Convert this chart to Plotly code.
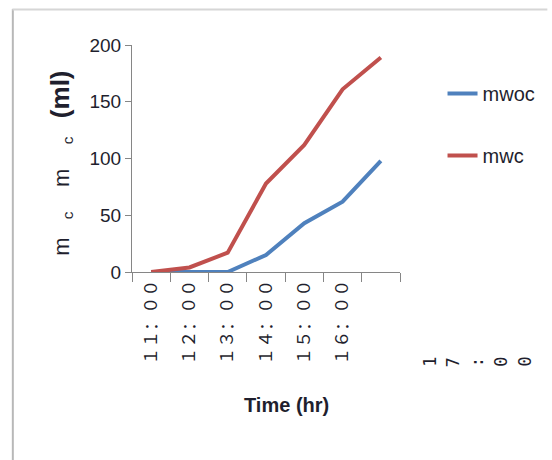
import plotly.graph_objects as go

times = ["11:00", "12:00", "13:00", "14:00", "15:00", "16:00", "17:00"]
mwoc = [0, 0, 0, 15, 43, 62, 98]
mwc = [0, 4, 17, 78, 112, 161, 189]
series_names = ["mwoc", "mwc"]
series_colors = ["#4F81BD", "#C0504D"]
y_ticks = [0, 50, 100, 150, 200]

W, H = 552, 460
L, R, T, B = 132, 149, 45, 188
PW, PH = W - L - R, H - T - B


def px_x(px):
    return (px - L) / PW


def px_y(py):
    return (H - B - py) / PH


def fullwidth(s):
    return "".join(chr(ord(c) + 0xFEE0) if 33 <= ord(c) <= 126 else c for c in s)


FONT = "Liberation Sans, Arial, sans-serif"
TXT = "#1f1f2e"
AX = "#868686"
NB = "\u00a0"

fig = go.Figure()
for name, vals, col in zip(series_names, [mwoc, mwc], series_colors):
    fig.add_trace(go.Scatter(x=times, y=vals, mode="lines", name=name,
                             legendgroup=name,
                             line=dict(color=col, width=4)))

ticktext = [fullwidth(t) for t in times[:-1]] + [" "]

fig.update_xaxes(type="category", categoryorder="array", categoryarray=times,
                 tickmode="array", tickvals=times, ticktext=ticktext,
                 tickson="boundaries", ticks="outside", ticklen=9, tickcolor=AX,
                 showline=True, linecolor=AX, linewidth=1, showgrid=False,
                 tickangle=-90, range=[-0.5, len(times) - 0.5],
                 tickfont=dict(family="Noto Sans CJK SC", size=17, color=TXT))
fig.update_yaxes(range=[0, 200], tickvals=y_ticks, ticks="outside", ticklen=6,
                 tickcolor=AX, showline=True, linecolor=AX, linewidth=1,
                 showgrid=False, zeroline=False,
                 tickfont=dict(family=FONT, size=19, color=TXT))

ytitle = ("m" + NB * 3 + "<sub>c</sub>" + NB * 4 + "m" + NB * 4 + "<sub>c</sub>" + NB * 3
          + "<span style='font-size:26px'><b>(ml)</b></span>")

annotations = [
    dict(text=ytitle, xref="paper", yref="paper", x=px_x(60), y=px_y(163),
         xanchor="center", yanchor="middle", textangle=-90,
         showarrow=False, font=dict(family=FONT, size=22, color=TXT)),
    dict(text="<b>Time (hr)</b>", xref="paper", yref="paper", x=px_x(288),
         y=px_y(405), xanchor="center", yanchor="middle", showarrow=False,
         font=dict(family=FONT, size=20, color=TXT)),
]

# mis-rendered last category label (characters laid out horizontally, each rotated)
for i, ch in enumerate(times[-1]):
    annotations.append(dict(text=ch, xref="paper", yref="paper",
                            x=px_x(433 + 24 * i), y=px_y(362), textangle=-90,
                            xanchor="center", yanchor="middle",
                            showarrow=False,
                            font=dict(family="DejaVu Sans Mono", size=17, color=TXT)))

shapes = [
    dict(type="line", xref="paper", yref="paper", x0=px_x(11.5), x1=px_x(11.5),
         y0=px_y(9), y1=px_y(460), line=dict(color="#b8b8b8", width=2)),
    dict(type="line", xref="paper", yref="paper", x0=px_x(11), x1=px_x(552),
         y0=px_y(9.5), y1=px_y(9.5), line=dict(color="#d6d6d6", width=2)),
]

fig.update_layout(
    width=W, height=H, margin=dict(l=L, r=R, t=T, b=B),
    paper_bgcolor="white", plot_bgcolor="white",
    showlegend=True,
    legend=dict(x=px_x(446), y=px_y(74), xanchor="left", yanchor="top",
                bgcolor="rgba(0,0,0,0)", borderwidth=0, tracegroupgap=33,
                font=dict(family=FONT, size=20, color=TXT)),
    annotations=annotations, shapes=shapes,
)

fig.write_html("out.html")
